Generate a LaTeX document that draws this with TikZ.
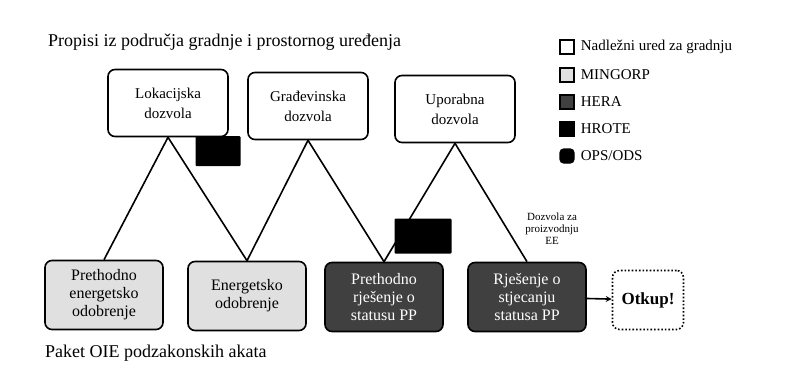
\documentclass[tikz,border=0pt]{standalone}
\usepackage{fontspec}
\setmainfont{Liberation Serif}
\begin{document}
\begin{tikzpicture}[
  x=1pt,y=-1pt,
  >=stealth,
  permit/.style={draw,line width=1.6pt,rounded corners=7pt,fill=white,minimum width=120pt,minimum height=67pt,align=center,font=\fontsize{15}{20}\selectfont},
  act/.style={draw,line width=1.6pt,rounded corners=7pt,minimum width=118pt,minimum height=69pt,align=center,font=\fontsize{16}{18}\selectfont},
  mingorp/.style={act,fill=black!12},
  hera/.style={act,fill=black!75,text=white},
  payout/.style={draw,line width=1.6pt,dotted,rounded corners=7pt,fill=white,minimum width=71pt,minimum height=59pt,font=\fontsize{17}{20}\selectfont\bfseries},
  link/.style={line width=1.6pt},
  blk/.style={fill=black,rounded corners=1pt,minimum width=45pt,minimum height=30pt,inner sep=0pt},
  key/.style={draw,line width=1.4pt,minimum size=14pt,inner sep=0pt},
  keytxt/.style={anchor=west,inner sep=0pt,font=\fontsize{15}{17}\selectfont}
]
  \useasboundingbox (0,0) rectangle (787,381);

  \node[anchor=west,inner sep=0pt,font=\fontsize{18}{20}\selectfont] (title) at (48,42) {Propisi iz područja gradnje i prostornog uređenja};
  \node[anchor=west,inner sep=0pt,font=\fontsize{18}{20}\selectfont] (paket) at (45,353) {Paket OIE podzakonskih akata};

  % dozvole
  \node[permit] (L) at (168,103) {Lokacijska\\dozvola};
  \node[permit] (G) at (308,106) {Građevinska\\dozvola};
  \node[permit] (U) at (455,109) {Uporabna\\dozvola};

  % akti
  \node[mingorp] (A1) at (104,295) {Prethodno\\energetsko\\odobrenje};
  \node[mingorp] (A2) at (247,296) {Energetsko\\odobrenje};
  \node[hera] (A3) at (384,297) {Prethodno\\rješenje o\\statusu PP};
  \node[hera] (A4) at (527,297) {Rješenje o\\stjecanju\\statusa PP};
  \node[payout] (O) at (648,300) {Otkup!};

  \draw[link] (L.south) -- (A1.north);
  \draw[link] (L.south) -- (A2.north);
  \draw[link] (G.south) -- (A2.north);
  \draw[link] (G.south) -- (A3.north);
  \draw[link] (U.south) -- (A3.north);
  \draw[link] (U.south) -- (A4.north);
  \draw[link,->] (A4) -- (O);

  \node[blk] (B1) at (218,151) {};
  \node[blk,minimum width=57pt,minimum height=35pt] (B2) at (423,236) {};
  \node[align=center,font=\fontsize{11}{12}\selectfont] (ee) at (552,229) {Dozvola za\\proizvodnju\\EE};

  % legenda
  \node[key,fill=white] (K1) at (567,47) {};
  \node[key,fill=black!12] (K2) at (567,75) {};
  \node[key,fill=black!75] (K3) at (567,102) {};
  \node[key,fill=black] (K4) at (567,129) {};
  \node[key,fill=black,rounded corners=4pt] (K5) at (567,156) {};
  \node[keytxt] at ([xshift=6pt]K1.east) {Nadležni ured za gradnju};
  \node[keytxt] at ([xshift=6pt]K2.east) {MINGORP};
  \node[keytxt] at ([xshift=6pt]K3.east) {HERA};
  \node[keytxt] at ([xshift=6pt]K4.east) {HROTE};
  \node[keytxt] at ([xshift=6pt]K5.east) {OPS/ODS};
\end{tikzpicture}
\end{document}
